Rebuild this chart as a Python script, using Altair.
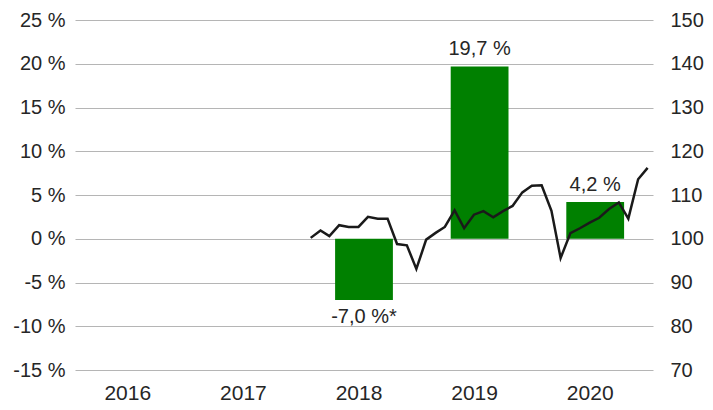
import altair as alt
import pandas as pd

# ---- data ----
years = ["2016", "2017", "2018", "2019", "2020"]
bar_years = ["2018", "2019", "2020"]
bar_values = [-7.0, 19.7, 4.2]
bar_labels = ["-7,0 %*", "19,7 %", "4,2 %"]

line_months = [f"{y}-{m:02d}-15" for y in (2018, 2019, 2020) for m in range(1, 13)]
line_values = [100.2, 101.9, 100.6, 103.1, 102.7, 102.7, 105.0, 104.6, 104.6, 98.8, 98.5, 93.1,
               99.8, 101.4, 102.7, 106.5, 102.4, 105.5, 106.3, 104.9, 106.3, 107.5, 110.6, 112.1,
               112.2, 106.4, 95.6, 101.3, 102.4, 103.7, 104.8, 106.8, 108.3, 104.6, 113.6, 116.2]

left_ticks = [-15, -10, -5, 0, 5, 10, 15, 20, 25]
right_ticks = [70, 80, 90, 100, 110, 120, 130, 140, 150]

FONT = "Liberation Sans"
TXT = "#262626"

bars_df = pd.DataFrame({"year": bar_years, "value": bar_values, "label": bar_labels})
line_df = pd.DataFrame({"month": line_months, "index": line_values})

base = alt.Chart(bars_df).encode(
    x=alt.X("year:N",
            scale=alt.Scale(domain=years, paddingInner=0.5, paddingOuter=0.25),
            axis=alt.Axis(title=None, labelAngle=0, domain=False, ticks=False, grid=False,
                          labelFontSize=21, labelPadding=12, labelOffset=-5)),
    y=alt.Y("value:Q",
            scale=alt.Scale(domain=[-15, 25], nice=False, zero=False),
            axis=alt.Axis(title=None, values=left_ticks, labelExpr="datum.value + ' %'",
                          domain=False, ticks=False, grid=True, gridColor="#b5b5b5",
                          gridWidth=1, labelPadding=10, labelFontSize=20)),
)

bars = base.mark_bar(color="#008000")
text_pos = base.transform_filter("datum.value >= 0").mark_text(
    dy=-17, fontSize=20, font=FONT, color=TXT, baseline="middle").encode(text="label:N")
text_neg = base.transform_filter("datum.value < 0").mark_text(
    dy=17, fontSize=20, font=FONT, color=TXT, baseline="middle").encode(text="label:N")

bar_layer = alt.layer(bars, text_pos, text_neg)

line = alt.Chart(line_df).mark_line(color="#1a1a1a", strokeWidth=2.5).encode(
    x=alt.X("month:T",
            scale=alt.Scale(domain=[alt.DateTime(year=2016, month=1, date=1, utc=True),
                                    alt.DateTime(year=2021, month=1, date=1, utc=True)]),
            axis=None),
    y=alt.Y("index:Q",
            scale=alt.Scale(domain=[70, 150], nice=False, zero=False),
            axis=alt.Axis(orient="right", title=None, values=right_ticks, domain=False,
                          ticks=False, grid=False, labelPadding=17, labelFontSize=20)),
)

chart = alt.layer(bar_layer, line).resolve_scale(
    x="independent", y="independent"
).properties(
    width=578, height=350,
    padding={"left": 67, "top": 12, "right": 52, "bottom": 32},
    autosize="none",
).configure_view(stroke=None).configure_axis(
    labelFont=FONT, labelColor=TXT
)

chart.save("out.html", embed_options={"renderer": "svg", "actions": False})
